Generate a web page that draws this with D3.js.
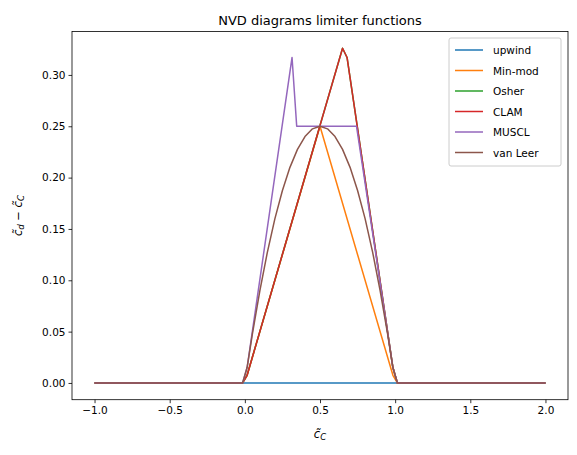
<!DOCTYPE html><html><head><meta charset="utf-8"><script src="https://cdn.jsdelivr.net/npm/d3@7"></script>
<style>body{margin:0;background:#fff}text{font-family:"DejaVu Sans";}</style></head><body><svg id="c" width="577" height="455"></svg>
<script>
const xTicks=[-1,-0.5,0,0.5,1,1.5,2];
const yTicks=[0,0.05,0.1,0.15,0.2,0.25,0.3];
const names=["upwind","Min-mod","Osher","CLAM","MUSCL","van Leer"];
const colors=["#1f77b4","#ff7f0e","#2ca02c","#d62728","#9467bd","#8c564b"];
const upwind=[[-1,0],[2,0]];
const minmod=[[-1,0],[-0.015,0],[0.015,0.0075],[0.5,0.25],[0.985,0.0075],[1.015,0],[2,0]];
const osher=[[-1,0],[-0.015,0],[0.015,0.0075],[0.65,0.326],[0.68,0.317],[0.985,0.015],[1.015,0],[2,0]];
const clam=[[-1,0],[-0.015,0],[0.015,0.0075],[0.65,0.326],[0.68,0.317],[0.985,0.015],[1.015,0],[2,0]];
const muscl=[[-1,0],[-0.015,0],[0.015,0.015],[0.314,0.317],[0.345,0.25],[0.743,0.25],[0.985,0.015],[1.015,0],[2,0]];
const vanleer=[[-1,0],[-0.015,0],[0.015,0.015],[0.05,0.0475],[0.1,0.09],[0.15,0.1275],[0.2,0.16],[0.25,0.1875],[0.3,0.21],[0.35,0.2275],[0.4,0.24],[0.45,0.2475],[0.5,0.25],[0.55,0.2475],[0.6,0.24],[0.65,0.2275],[0.7,0.21],[0.75,0.1875],[0.8,0.16],[0.85,0.1275],[0.9,0.09],[0.95,0.0475],[0.985,0.015],[1.015,0],[2,0]];
const series=[upwind,minmod,osher,clam,muscl,vanleer];
const L=72,R=568,T=31.5,B=399.7;
const svg=d3.select("#c");
const x=d3.scaleLinear().domain([-1.15,2.15]).range([L,R]);
const y=d3.scaleLinear().domain([-0.0163,0.3423]).range([B,T]);
const line=d3.line().x(d=>x(d[0])).y(d=>y(d[1]));
const g=svg.append("g");
series.forEach((s,i)=>g.append("path").attr("d",line(s)).attr("fill","none").attr("stroke",colors[i]).attr("stroke-width",1.5).attr("stroke-linejoin","round"));
svg.append("rect").attr("x",L).attr("y",T).attr("width",R-L).attr("height",B-T).attr("fill","none").attr("stroke","#000").attr("stroke-width",0.8);
const xa=svg.append("g").attr("transform",`translate(0,${B})`).call(d3.axisBottom(x).tickValues(xTicks).tickFormat(d=>d3.format(".1f")(d).replace("-","−")).tickSize(3.5).tickSizeOuter(0));
const ya=svg.append("g").attr("transform",`translate(${L},0)`).call(d3.axisLeft(y).tickValues(yTicks).tickFormat(d3.format(".2f")).tickSize(3.5).tickSizeOuter(0));
[xa,ya].forEach(a=>{a.select(".domain").remove();a.selectAll("text").attr("font-size",10.5).attr("fill","#000").attr("font-family","DejaVu Sans");a.selectAll("line").attr("stroke","#000").attr("stroke-width",0.8);});
svg.append("text").attr("x",(L+R)/2).attr("y",T-7).attr("text-anchor","middle").attr("font-size",13).text("NVD diagrams limiter functions");
svg.append("text").attr("x",(L+R)/2).attr("y",438).attr("text-anchor","middle").attr("font-size",11.5).attr("font-style","italic").html("c̃<tspan font-size='8.5' dy='2'>C</tspan>");
svg.append("text").attr("transform",`translate(22,${(T+B)/2}) rotate(-90)`).attr("text-anchor","middle").attr("font-size",11.5).attr("font-style","italic").html("c̃<tspan font-size='8.5' dy='2'>d</tspan><tspan dy='-2' font-style='normal'> − </tspan>c̃<tspan font-size='8.5' dy='2'>C</tspan>");
const lg=svg.append("g").attr("transform","translate(449,38)");
lg.append("rect").attr("width",112).attr("height",128).attr("rx",2).attr("fill","#fff").attr("stroke","#ccc");
names.forEach((n,i)=>{const yy=12+i*20.5;
lg.append("line").attr("x1",6).attr("x2",34).attr("y1",yy).attr("y2",yy).attr("stroke",colors[i]).attr("stroke-width",1.5);
lg.append("text").attr("x",44).attr("y",yy+4).attr("font-size",10.5).text(n);});
</script></body></html>
